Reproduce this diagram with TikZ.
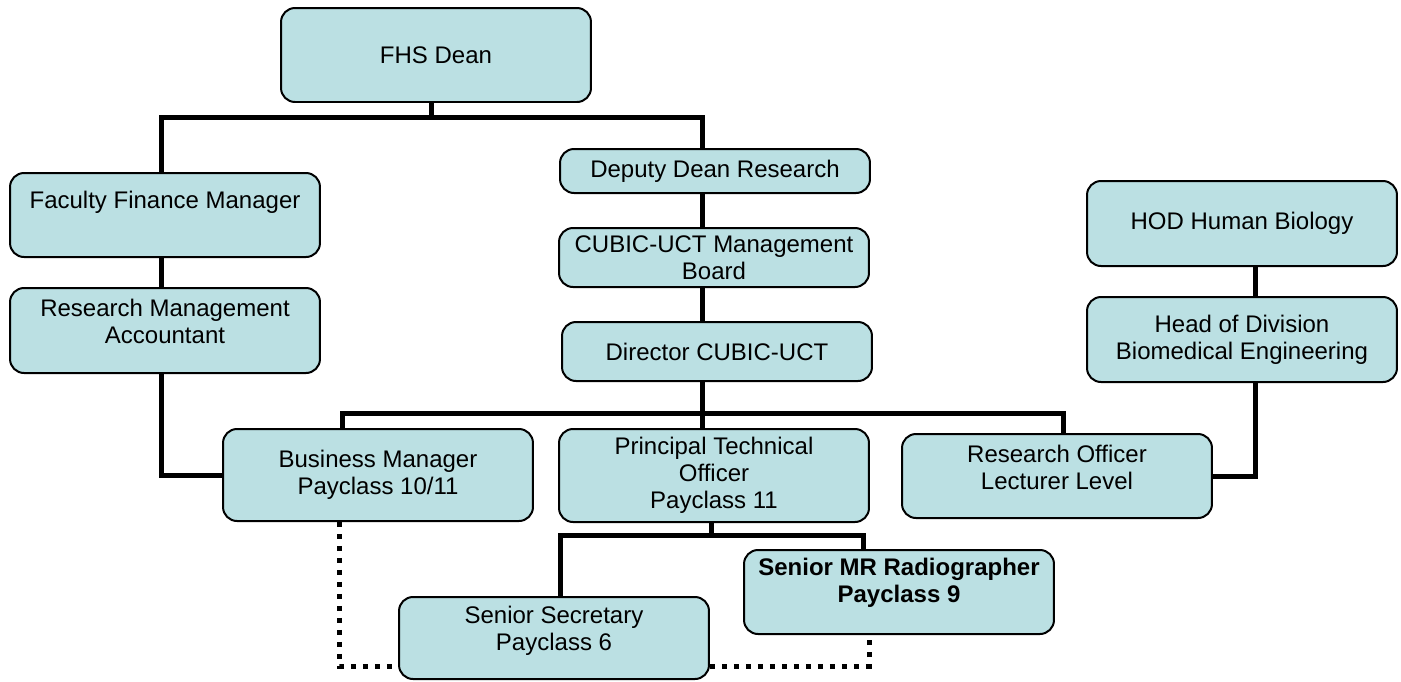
\documentclass[tikz,border=0pt]{standalone}
\usepackage{fontspec}
\setmainfont{Liberation Sans}
\definecolor{boxfill}{RGB}{187,224,227}
\newcommand{\lift}[1]{\rule[-#1]{0pt}{0pt}}
\tikzset{
  post/.style={draw,line width=0.04cm,fill=boxfill,rounded corners=0.28cm,
    minimum width=6.2cm,align=center,font=\fontsize{13.66}{15.4}\selectfont},
  link/.style={line width=0.1cm},
  dotlink/.style={line width=0.1cm,dash pattern=on 0.1cm off 0.14cm}
}

\begin{document}
\begin{tikzpicture}[x=0.02cm,y=-0.02cm]
            \useasboundingbox (0,0) rectangle (1401,681);

            % columns and buses of the chart
            \coordinate (deanx) at (431,0);
            \coordinate (colL) at (161,0);
            \coordinate (colM) at (702,0);
            \coordinate (colR) at (1255,0);
            \coordinate (bmx) at (342,0);
            \coordinate (rox) at (1063,0);
            \coordinate (ptox) at (711,0);
            \coordinate (ssx) at (560,0);
            \coordinate (smrx) at (863,0);
            \coordinate (dotL) at (339,0);
            \coordinate (dotR) at (869,0);
            \coordinate (topbus) at (0,117);
            \coordinate (midbus) at (0,413);
            \coordinate (lowbus) at (0,535);
            \coordinate (dotbus) at (0,666);

            \node[post,minimum height=1.88cm] (dean) at (436,55) {FHS Dean};
            \node[post,minimum height=1.68cm] (ffm) at (165,215) {Faculty Finance Manager\lift{0.62cm}};
            \node[post,minimum height=1.7cm] (rma) at (165,330.5) {Research Management\\Accountant\lift{0.36cm}};
            \node[post,minimum height=0.88cm] (deputy) at (715,171) {Deputy Dean Research};
            \node[post,minimum height=1.18cm] (cubic) at (714,257.5) {CUBIC-UCT Management\\Board};
            \node[post,minimum height=1.18cm] (director) at (717,351.5) {Director CUBIC-UCT};
            \node[post,minimum height=1.7cm] (hodhb) at (1242,223.5) {HOD Human Biology};
            \node[post,minimum height=1.7cm] (hoddiv) at (1242,339.5) {Head of Division\\Biomedical Engineering};
            \node[post,minimum height=1.84cm] (bm) at (378,475) {Business Manager\\Payclass 10/11};
            \node[post,minimum height=1.86cm] (pto) at (714,475.5) {Principal Technical\\Officer\\Payclass 11};
            \node[post,minimum height=1.68cm] (ro) at (1057,476) {Research Officer\\Lecturer Level\lift{0.34cm}};
            \node[post,minimum height=1.68cm] (smr) at (899,592) {\bfseries Senior MR Radiographer\\\bfseries Payclass 9\lift{0.46cm}};
            \node[post,minimum height=1.64cm] (ss) at (554,638) {Senior Secretary\\Payclass 6\lift{0.4cm}};

            % solid reporting lines
            \draw[link] (dean.south -| deanx) -- (topbus -| deanx);
            \draw[link] (ffm.north -| colL) |- (topbus -| colM) -- (deputy.north -| colM);
            \draw[link] (ffm.south -| colL) -- (rma.north -| colL);
            \draw[link] (rma.south -| colL) |- (bm.west);
            \draw[link] (deputy.south -| colM) -- (cubic.north -| colM);
            \draw[link] (cubic.south -| colM) -- (director.north -| colM);
            \draw[link] (director.south -| colM) -- (pto.north -| colM);
            \draw[link] (bm.north -| bmx) |- (midbus -| rox) -- (ro.north -| rox);
            \draw[link] (pto.south -| ptox) -- (lowbus -| ptox);
            \draw[link] (ss.north -| ssx) |- (lowbus -| smrx) -- (smr.north -| smrx);
            \draw[link] (hodhb.south -| colR) -- (hoddiv.north -| colR);
            \draw[link] (hoddiv.south -| colR) |- (ro.east);

            % dotted lines
            \draw[dotlink] (bm.south -| dotL) |- (ss.west |- dotbus);
            \draw[dotlink] (ss.east |- dotbus) -| (smr.south -| dotR);
        \end{tikzpicture}
\end{document}
